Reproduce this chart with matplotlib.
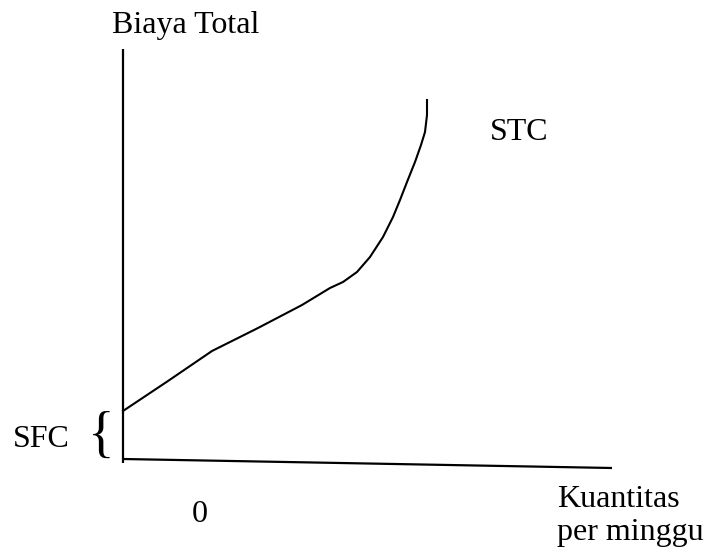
#!/usr/bin/env python

"""Short-run total cost curve (STC) with fixed cost (SFC)"""

import matplotlib.pyplot as plt

# STC curve (quantity, total cost), arbitrary units
quantity = [0, 1.125, 2.225, 3.375, 4.475, 5.175, 5.5, 5.85, 6.175, 6.5,
            6.75, 6.925, 7.1, 7.3, 7.45, 7.55, 7.6, 7.6]
total_cost = [1.25, 2.0, 2.75, 3.325, 3.9, 4.325, 4.475, 4.725, 5.1, 5.6,
              6.1, 6.525, 6.975, 7.475, 7.9, 8.225, 8.65, 9.025]

# hand-drawn axes: vertical cost axis and a slightly tilted quantity axis
y_axis_x = [0, 0]
y_axis_y = [-0.05, 10.3]
x_axis_x = [0, 12.225]
x_axis_y = [0.05, -0.175]

plt.rcParams["font.family"] = ["Liberation Serif", "DejaVu Serif"]
FS = 23

fig = plt.figure(figsize=(7.07, 5.5), dpi=100)
ax = fig.add_axes([0, 0, 1, 1])
ax.set_xlim(-3.075, 14.6)
ax.set_ylim(-2.225, 11.525)
ax.axis("off")

ax.plot(y_axis_x, y_axis_y, color="black", lw=1.6, solid_capstyle="butt")
ax.plot(x_axis_x, x_axis_y, color="black", lw=1.6, solid_capstyle="butt")
ax.plot(quantity, total_cost, color="black", lw=1.5, solid_joinstyle="round")

ax.text(-0.275, 10.7, "Biaya Total", fontsize=FS, ha="left", va="baseline")
ax.text(9.175, 8.025, "STC", fontsize=FS, ha="left", va="baseline")
ax.text(-2.75, 0.35, "SFC", fontsize=FS, ha="left", va="baseline")
ax.text(-0.55, 0.22, "{", fontsize=40, ha="center", va="baseline")
ax.text(1.725, -1.525, "0", fontsize=FS, ha="left", va="baseline")
ax.text(10.85, -1.15, "Kuantitas", fontsize=FS, ha="left", va="baseline")
ax.text(10.85, -1.975, "per minggu", fontsize=FS, ha="left", va="baseline")

plt.savefig("out.png", dpi=100)
plt.close()
